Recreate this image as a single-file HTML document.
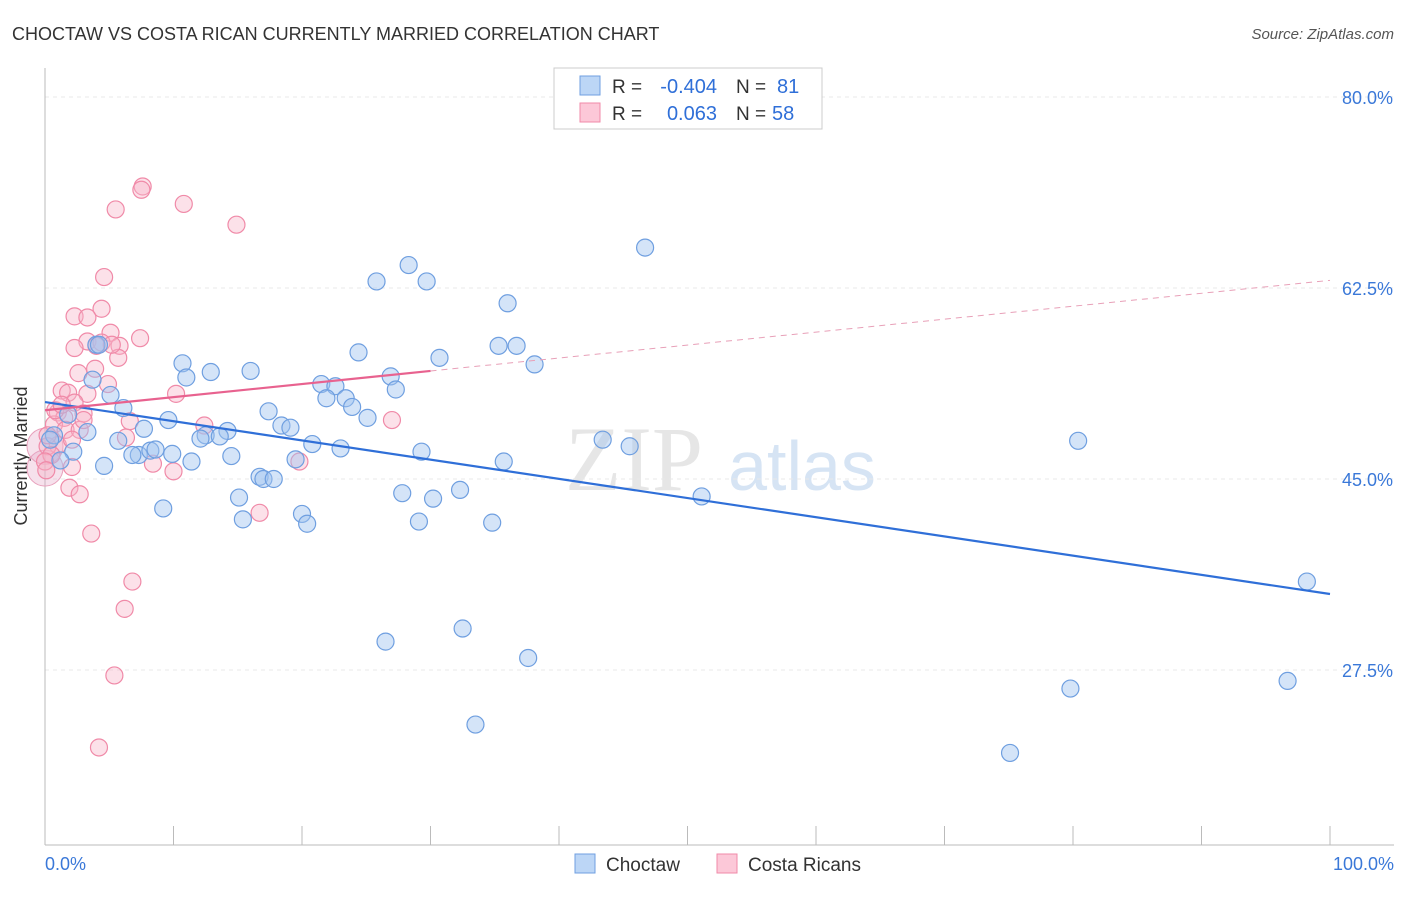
<!DOCTYPE html>
<html><head><meta charset="utf-8"><style>
body{margin:0;background:#fff;font-family:"Liberation Sans",sans-serif}
</style></head><body>
<svg width="1406" height="892" xmlns="http://www.w3.org/2000/svg" id="svg" font-family="Liberation Sans, sans-serif">
<text x="12" y="40" font-size="18" fill="#333">CHOCTAW VS COSTA RICAN CURRENTLY MARRIED CORRELATION CHART</text>
<text x="1394" y="39" font-size="15" fill="#555" text-anchor="end" font-style="italic">Source: ZipAtlas.com</text>
<text x="27" y="456" font-size="18" fill="#333" text-anchor="middle" transform="rotate(-90 27 456)">Currently Married</text>
<g><text x="634" y="490" font-size="92" fill="#e6e6e6" text-anchor="middle" font-family="Liberation Serif, serif">ZIP</text><text x="802" y="490" font-size="70" fill="#d6e4f4" text-anchor="middle">atlas</text></g>
<g id="grid"></g><g id="axes"></g><g id="pts"></g><g id="lines"></g>
<g>
<rect x="554" y="68" width="268" height="61" fill="#fff" stroke="#ccc"/>
<rect x="580" y="76" width="20" height="19" fill="#bcd6f6" stroke="#6f9fe0"/>
<rect x="580" y="103" width="20" height="19" fill="#fcc8d8" stroke="#f08aa8"/>
<text x="612" y="93" font-size="19" fill="#333">R =</text>
<text x="717" y="93" font-size="20" fill="#2f6fd8" text-anchor="end">-0.404</text>
<text x="736" y="93" font-size="19" fill="#333">N =</text>
<text x="777" y="93" font-size="20" fill="#2f6fd8">81</text>
<text x="612" y="120" font-size="19" fill="#333">R =</text>
<text x="717" y="120" font-size="20" fill="#2f6fd8" text-anchor="end">0.063</text>
<text x="736" y="120" font-size="19" fill="#333">N =</text>
<text x="772" y="120" font-size="20" fill="#2f6fd8">58</text>
</g>
<g>
<rect x="575" y="854" width="20" height="19" fill="#bcd6f6" stroke="#6f9fe0"/>
<text x="606" y="871" font-size="19" fill="#333">Choctaw</text>
<rect x="717" y="854" width="20" height="19" fill="#fcc8d8" stroke="#f08aa8"/>
<text x="748" y="871" font-size="19" fill="#333">Costa Ricans</text>
</g>
</svg>
<script>
const yTicks=[80,62.5,45,27.5];
const yTickLabels=["80.0%","62.5%","45.0%","27.5%"];
const xTickLabels=["0.0%","100.0%"];
const choctaw=[[46.7,66.2],[28.3,64.6],[25.8,63.1],[29.7,63.1],[36.0,61.1],[35.3,57.2],[36.7,57.2],[24.4,56.6],[30.7,56.1],[38.1,55.5],[10.7,55.6],[12.9,54.8],[16.0,54.9],[11.0,54.3],[26.9,54.4],[3.7,54.1],[21.5,53.7],[22.6,53.5],[27.3,53.2],[5.1,52.7],[21.9,52.4],[23.4,52.4],[6.1,51.5],[23.9,51.6],[17.4,51.2],[9.6,50.4],[25.1,50.6],[18.4,49.9],[19.1,49.7],[14.2,49.4],[3.3,49.3],[7.7,49.6],[0.7,49.0],[12.5,49.0],[13.6,48.9],[12.1,48.7],[20.8,48.2],[5.7,48.5],[43.4,48.6],[45.5,48.0],[80.4,48.5],[23.0,47.8],[2.2,47.5],[7.3,47.2],[6.8,47.2],[8.2,47.6],[8.6,47.7],[9.9,47.3],[29.3,47.5],[14.5,47.1],[19.5,46.8],[11.4,46.6],[4.6,46.2],[35.7,46.6],[16.7,45.2],[17.0,45.0],[17.8,45.0],[27.8,43.7],[15.1,43.3],[32.3,44.0],[30.2,43.2],[51.1,43.4],[9.2,42.3],[20.0,41.8],[15.4,41.3],[20.4,40.9],[29.1,41.1],[34.8,41.0],[98.2,35.6],[32.5,31.3],[26.5,30.1],[37.6,28.6],[96.7,26.5],[79.8,25.8],[33.5,22.5],[75.1,19.9],[1.8,50.9],[4.0,57.3],[4.2,57.3],[0.4,48.6],[1.2,46.7]];
const costa=[[7.6,71.8],[7.5,71.5],[5.5,69.7],[10.8,70.2],[14.9,68.3],[4.6,63.5],[4.4,60.6],[2.3,59.9],[3.3,59.8],[7.4,57.9],[5.1,58.4],[3.3,57.6],[4.4,57.5],[5.8,57.2],[2.3,57.0],[4.0,57.2],[5.7,56.1],[2.6,54.7],[3.9,55.1],[1.3,53.1],[1.8,52.9],[4.9,53.7],[10.2,52.8],[3.3,52.8],[2.3,52.0],[3.0,51.0],[1.0,51.1],[1.5,50.6],[0.7,50.0],[1.6,49.5],[2.7,49.5],[6.6,50.3],[12.4,49.9],[6.3,48.8],[27.0,50.4],[1.0,48.1],[0.2,48.0],[0.5,47.2],[2.1,46.1],[10.0,45.7],[8.4,46.4],[19.8,46.6],[1.9,44.2],[2.7,43.6],[16.7,41.9],[3.6,40.0],[6.8,35.6],[6.2,33.1],[5.4,27.0],[4.2,20.4],[0,46.6],[0.2,49.0],[0.8,51.3],[1.3,51.8],[0.1,45.8],[2.1,48.6],[3.0,50.4],[5.2,57.3]];
const bigCostaPts=[[0,46.0],[0,48.0]];
const blueTrend=[52.05,34.46];
const pinkTrend=[51.3,54.9,63.2];
const X=v=>45+v*12.85, Y=v=>97+(80-v)*10.914;
const NS="http://www.w3.org/2000/svg";
function mk(t,a,p){const e=document.createElementNS(NS,t);for(const k in a)e.setAttribute(k,a[k]);document.getElementById(p).appendChild(e);return e;}
yTicks.forEach((t,i)=>{
 const l=mk('line',{x1:45,x2:1394,y1:Y(t),y2:Y(t),stroke:'#e8e8e8','stroke-dasharray':'4,4'},'grid');
 
 
 const tx=mk('text',{x:1393,y:Y(t)+7,'font-size':18,fill:'#3a78d8','text-anchor':'end'},'axes');
 tx.textContent=yTickLabels[i];
 
 
});
let a=mk('line',{x1:45,x2:45,y1:68,y2:845,stroke:'#bbb'},'axes');


a=mk('line',{x1:45,x2:1394,y1:845,y2:845,stroke:'#bbb'},'axes');


for(let i=1;i<=10;i++){const t=mk('line',{x1:X(i*10),x2:X(i*10),y1:826,y2:845,stroke:'#bbb'},'axes');
 
 }
[[0,'start',45],[1,'end',1394]].forEach(([i,an,x])=>{const t=mk('text',{x:x,y:870,'font-size':18,fill:'#3a78d8','text-anchor':an},'axes');t.textContent=xTickLabels[i];
 
 });
bigCostaPts.forEach(p=>{const c=mk('circle',{cx:X(p[0]),cy:Y(p[1]),r:18,fill:'rgba(230,170,200,0.35)',stroke:'#e8a0bc'},'pts');
 
 });
costa.forEach(p=>{const c=mk('circle',{cx:X(p[0]),cy:Y(p[1]),r:8.5,fill:'rgba(248,180,200,0.4)',stroke:'#f08aa8','stroke-width':1.2},'pts');
 
 });
choctaw.forEach(p=>{const c=mk('circle',{cx:X(p[0]),cy:Y(p[1]),r:8.5,fill:'rgba(160,196,240,0.45)',stroke:'#6f9fe0','stroke-width':1.2},'pts');
 
 });
let ln=mk('line',{x1:X(0),y1:Y(blueTrend[0]),x2:X(100),y2:Y(blueTrend[1]),stroke:'#2f6fd8','stroke-width':2.2},'lines');


ln=mk('line',{x1:X(0),y1:Y(pinkTrend[0]),x2:X(30),y2:Y(pinkTrend[1]),stroke:'#e8628f','stroke-width':2.2},'lines');


ln=mk('line',{x1:X(30),y1:Y(pinkTrend[1]),x2:X(100),y2:Y(pinkTrend[2]),stroke:'#e8a0b8','stroke-width':1,'stroke-dasharray':'6,5'},'lines');


</script>
</body></html>
